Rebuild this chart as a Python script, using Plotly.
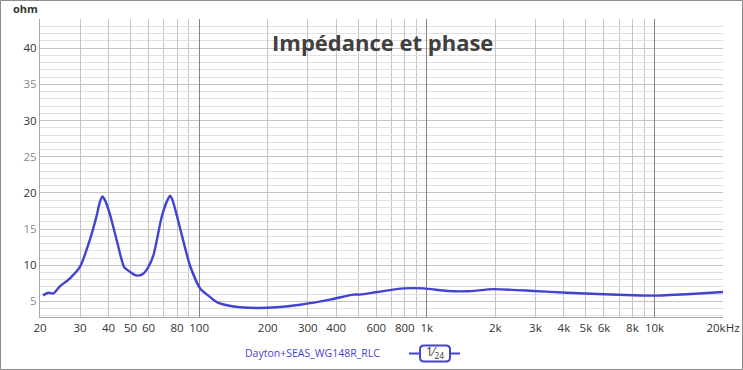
import plotly.graph_objects as go

# ---- data ----
freq_hz = [20.6, 21.8, 22.9, 24.5, 27.1, 30, 33.1, 35.5, 36.6, 37.6, 38.7, 40.6, 43.5,
           46.9, 49.7, 52.8, 56, 58.9, 63, 68.5, 72.6, 74.6, 76.6, 79.8, 85.3, 91.3,
           101, 111.8, 119.6, 141.6, 179, 219, 278, 376, 476, 510, 606, 792, 968, 1230,
           1500, 1970, 2950, 4130, 6000, 8100, 9900, 13900, 20000]
impedance_ohm = [5.84, 6.2, 6.1, 7.1, 8.2, 9.8, 13.5, 16.9, 18.7, 19.5, 18.9, 17.0, 13.4,
                 9.7, 9.1, 8.6, 8.7, 9.4, 11.4, 16.7, 19.0, 19.6, 18.9, 16.9, 13.3, 9.9,
                 6.8, 5.6, 4.9, 4.3, 4.1, 4.2, 4.55, 5.25, 5.95, 5.95, 6.3, 6.8, 6.8, 6.45,
                 6.4, 6.7, 6.45, 6.2, 6.0, 5.85, 5.8, 6.0, 6.3]
series_name = "Dayton+SEAS_WG148R_RLC"
title_text = "Impédance et phase"
y_unit = "ohm"

x_label_vals = [20, 30, 40, 50, 60, 80, 100, 200, 300, 400, 600, 800,
                1000, 2000, 3000, 4000, 5000, 6000, 8000, 10000, 20000]
x_label_text = ["20", "30", "40", "50", "60", "80", "100", "200", "300", "400", "600", "800",
                "1k", "2k", "3k", "4k", "5k", "6k", "8k", "10k", "20kHz"]
x_unlabeled_grid = [70, 90, 500, 700, 900, 7000, 9000]
x_decades = [100, 1000, 10000]
y_major_vals = [5, 10, 15, 20, 25, 30, 35, 40]
y_label_text = ["5", "10", "15", "20", "25", "30", "35", "40"]

# ---- style ----
FONT = "Open Sans"
CURVE = "#4343d2"
TXT = "#333333"
GRID = "#c4c4c4"

ytext = []
for v, t in zip(y_major_vals, y_label_text):
    col = TXT if v % 10 == 0 else "#8a8a8a"
    ytext.append(f'<span style="color:{col}">{t}</span>')

fig = go.Figure()
fig.add_trace(go.Scatter(x=freq_hz, y=impedance_ohm, mode="lines",
                         line=dict(color=CURVE, width=2.4, shape="spline", smoothing=0.6),
                         name=series_name, showlegend=False, xaxis="x2"))
fig.add_trace(go.Scatter(x=[100], y=[None], mode="lines", showlegend=False,
                         hoverinfo="skip"))

W, H = 743, 370
L, R, T, B = 40, 20, 19, 53
pw, ph = W - L - R, H - T - B

def px(x):
    return (x - L) / pw

def py(y):
    return (H - B - y) / ph

xr = [1.30103, 4.30103]
fig.update_layout(
    width=W, height=H,
    margin=dict(l=L, r=R, t=T, b=B, autoexpand=False),
    paper_bgcolor="white", plot_bgcolor="white",
    font=dict(family=FONT, size=12, color=TXT),
    xaxis=dict(type="log", range=xr, automargin=False,
               tickmode="array", tickvals=x_label_vals, ticktext=x_label_text,
               showgrid=True, gridcolor=GRID, gridwidth=1,
               minor=dict(tickmode="array", tickvals=x_unlabeled_grid, showgrid=True,
                          gridcolor=GRID, gridwidth=1, ticks=""),
               showline=True, linecolor="#a8a8a8", linewidth=1,
               ticks="", zeroline=False, tickfont=dict(size=11.5, color=TXT)),
    xaxis2=dict(type="log", range=xr, overlaying="x", anchor="y", automargin=False,
                tickmode="array", tickvals=x_decades, showticklabels=False,
                showgrid=True, gridcolor="#858585", gridwidth=1,
                showline=False, ticks="", zeroline=False),
    yaxis=dict(range=[2.85, 44.03], automargin=False,
               tickmode="array", tickvals=y_major_vals,
               ticktext=ytext, showgrid=True, gridcolor=GRID, gridwidth=1,
               minor=dict(dtick=1, tick0=0, showgrid=True, gridcolor="#e0e0e0",
                          gridwidth=1, ticks=""),
               showline=True, linecolor="#a8a8a8", linewidth=1,
               ticks="", zeroline=False, tickfont=dict(size=11.5)),
    hovermode=False,
)

bx0, bx1 = px(420), px(450)
by0, by1 = py(361.5), py(345.5)
rx, ry = 4 / pw, 4 / ph
box_path = (f"M {bx0+rx},{by1} L {bx1-rx},{by1} Q {bx1},{by1} {bx1},{by1-ry} "
            f"L {bx1},{by0+ry} Q {bx1},{by0} {bx1-rx},{by0} "
            f"L {bx0+rx},{by0} Q {bx0},{by0} {bx0},{by0+ry} "
            f"L {bx0},{by1-ry} Q {bx0},{by1} {bx0+rx},{by1} Z")
fig.update_layout(
    shapes=[
        dict(type="rect", xref="paper", yref="paper",
             x0=px(0.5), x1=px(742.5), y0=py(369.5), y1=py(0.5),
             line=dict(color="#8c8c8c", width=1), fillcolor="rgba(0,0,0,0)", layer="above"),
        dict(type="line", xref="paper", yref="paper",
             x0=px(409), x1=px(460), y0=py(353.5), y1=py(353.5),
             line=dict(color=CURVE, width=2), layer="above"),
        dict(type="path", xref="paper", yref="paper", path=box_path,
             line=dict(color=CURVE, width=2), fillcolor="white", layer="above"),
    ],
    annotations=[
        dict(text=f"<b>{title_text}</b>", xref="paper", yref="paper",
             x=px(382), y=py(42), xanchor="center", yanchor="middle",
             showarrow=False, font=dict(family=FONT, size=22, color="#404040")),
        dict(text=f"<b>{y_unit}</b>", xref="paper", yref="paper",
             x=px(25), y=py(9), xanchor="center", yanchor="middle",
             showarrow=False, font=dict(family=FONT, size=11, color=TXT)),
        dict(text=series_name, xref="paper", yref="paper",
             x=px(312), y=py(353), xanchor="center", yanchor="middle",
             showarrow=False, font=dict(family=FONT, size=10.5, color="#4a3fd0")),
        dict(text="1⁄<sub>24</sub>", xref="paper", yref="paper",
             x=px(435), y=py(352), xanchor="center", yanchor="middle",
             showarrow=False, font=dict(family=FONT, size=12, color=TXT)),
    ],
)

fig.write_html("out.html", config={"displayModeBar": False},
               post_script="document.body.style.margin='0';")
